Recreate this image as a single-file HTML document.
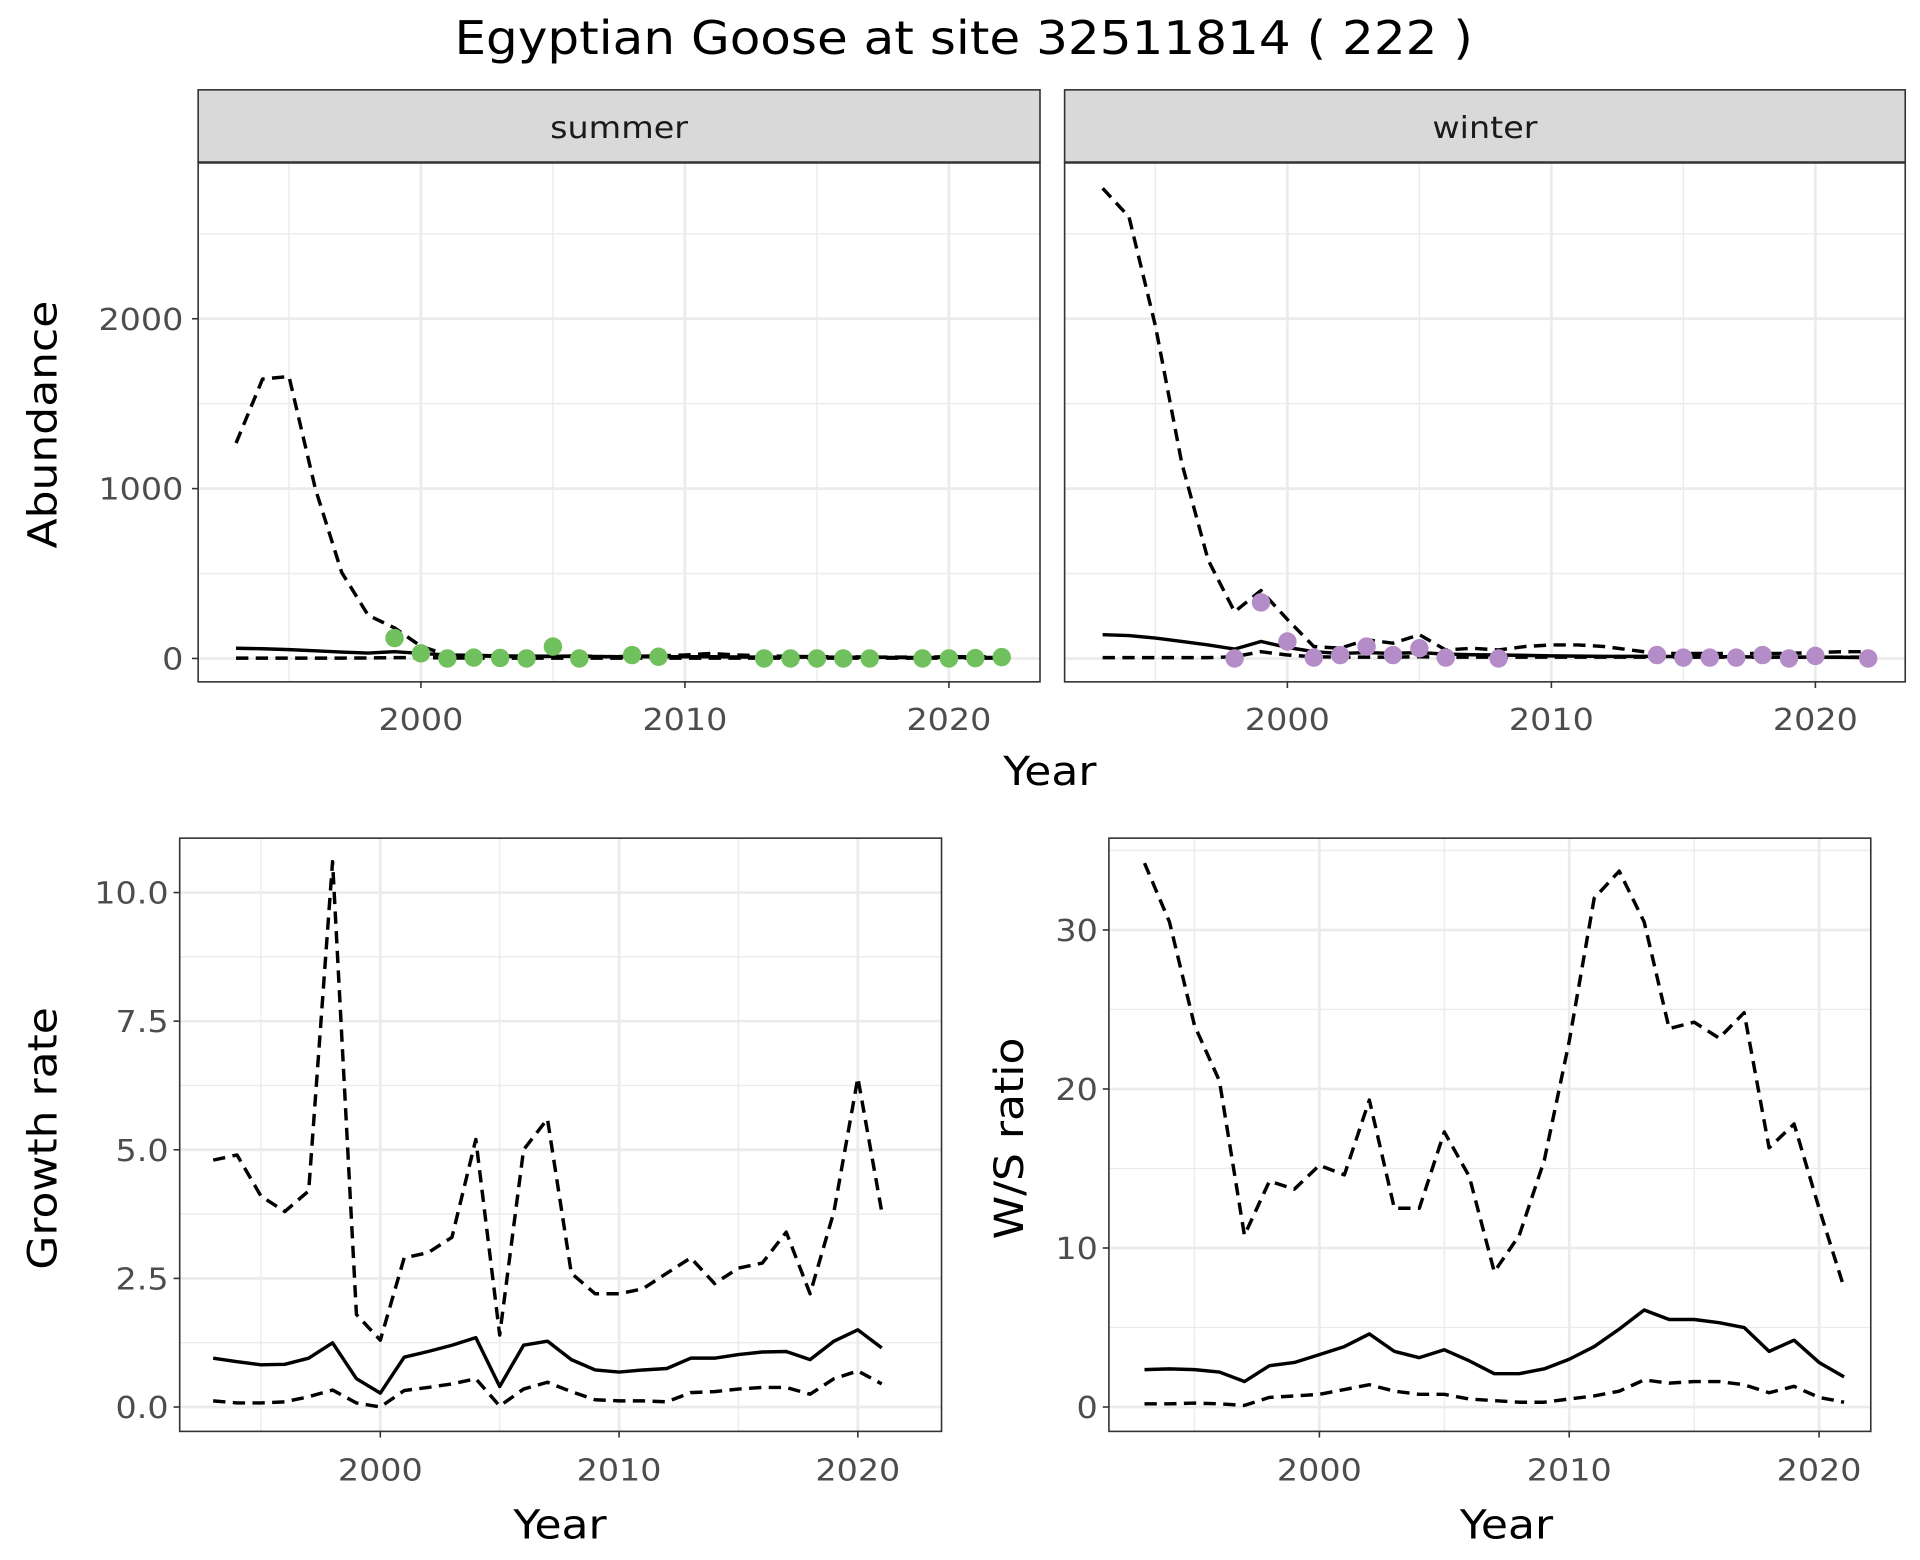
<!DOCTYPE html>
<html><head><meta charset="utf-8"><style>html,body{margin:0;padding:0;background:#fff}svg{display:block}text{font-family:"DejaVu Sans","Liberation Sans",sans-serif}</style></head>
<body>
<svg id="s" width="1920" height="1560" viewBox="0 0 1560 1267.5" xmlns="http://www.w3.org/2000/svg"></svg>
<script>
var s=document.getElementById('s'),h='';
var FS=1.13;
function L(x1,y1,x2,y2,c,w){h+='<line x1="'+x1+'" y1="'+y1+'" x2="'+x2+'" y2="'+y2+'" stroke="'+c+'" stroke-width="'+w+'"/>';}
function T(x,y,t,sz,c,a,rot){h+='<text class="t" x="'+x+'" y="'+y+'" font-size="'+(sz*FS).toFixed(1)+'" fill="'+c+'" text-anchor="'+(a||'middle')+'"'+(rot?' transform="rotate(-90 '+x+' '+y+')"':'')+'>'+t+'</text>';}
function P(pts,dash){h+='<polyline fill="none" stroke="#000" stroke-width="2.8" stroke-linejoin="round" '+(dash?'stroke-dasharray="10 6" ':'')+'points="'+pts.join(' ')+'"/>';}
function panel(o){
 h+='<rect x="'+o.x0+'" y="'+o.y0+'" width="'+(o.x1-o.x0)+'" height="'+(o.y1-o.y0)+'" fill="#fff"/>';
 o.xmin.forEach(function(v){var x=o.xf(v);L(x,o.y0,x,o.y1,'#ebebeb',1.1);});
 o.ymin.forEach(function(v){var y=o.yf(v);L(o.x0,y,o.x1,y,'#ebebeb',1.1);});
 o.xmaj.forEach(function(v){var x=o.xf(v);L(x,o.y0,x,o.y1,'#ebebeb',2.2);});
 o.ymaj.forEach(function(v){var y=o.yf(v);L(o.x0,y,o.x1,y,'#ebebeb',2.2);});
}
function border(o){h+='<rect x="'+o.x0+'" y="'+o.y0+'" width="'+(o.x1-o.x0)+'" height="'+(o.y1-o.y0)+'" fill="none" stroke="#333" stroke-width="1.3"/>';}
function series(o,years,vals,dash){var p=[];vals.forEach(function(v,i){p.push(o.xf(years[i]).toFixed(1)+','+o.yf(v).toFixed(1));});P(p,dash);}
function rng(a,b){var r=[];for(var i=a;i<=b;i++)r.push(i);return r;}

T(783,44,'Egyptian Goose at site 32511814 ( 222 )',33,'#000');

var yTop=function(v){return 535-v*0.138;};
var tops=[{x0:161,x1:845,c:342,lab:'summer'},{x0:865,x1:1548,c:1046,lab:'winter'}];
var Y93=rng(1993,2022);
var sumUp=[1268,1645,1660,1000,507,254,180,72,20,15,12,10,12,15,10,12,15,20,30,20,15,12,10,10,8,8,8,10,10,8];
var sumLo=[2,2,2,2,2,3,5,5,3,2,2,2,2,2,2,2,2,2,2,2,2,2,2,2,2,2,2,2,2,2];
var sumMid=[60,57,52,45,38,32,40,30,20,18,15,14,13,12,11,10,10,10,10,9,8,8,8,7,7,6,6,6,6,6];
var winUp=[2768,2600,1957,1150,580,275,400,230,70,60,110,90,140,50,60,50,70,80,80,70,50,30,30,30,30,30,30,35,40,40];
var winLo=[5,5,5,5,5,10,40,20,10,8,8,8,10,8,8,8,8,8,8,8,8,8,8,8,8,8,8,8,8,8];
var winMid=[140,135,120,100,80,55,100,65,40,30,35,30,35,25,22,20,18,15,14,12,12,12,11,10,10,9,8,8,7,5];
var sumPts=[[1999,120],[2000,30],[2001,0],[2002,5],[2003,3],[2004,0],[2005,70],[2006,0],[2008,20],[2009,10],[2013,0],[2014,0],[2015,0],[2016,0],[2017,0],[2019,0],[2020,0],[2021,2],[2022,8]];
var winPts=[[1998,0],[1999,330],[2000,100],[2001,5],[2002,20],[2003,70],[2004,20],[2005,60],[2006,5],[2008,0],[2014,20],[2015,5],[2016,5],[2017,5],[2018,20],[2019,0],[2020,15],[2022,0]];
tops.forEach(function(t,k){
 var o={x0:t.x0,x1:t.x1,y0:132,y1:554,xf:function(y){return t.c+(y-2000)*21.45;},yf:yTop,xmaj:[2000,2010,2020],xmin:[1995,2005,2015],ymaj:[0,1000,2000],ymin:[500,1500,2500]};
 panel(o);
 h+='<rect x="'+t.x0+'" y="73" width="'+(t.x1-t.x0)+'" height="59" fill="#d9d9d9" stroke="#333" stroke-width="1.3"/>';
 L(t.x0,132,t.x1,132,'#333',2);
 T((t.x0+t.x1)/2,112,t.lab,22,'#1a1a1a');
 if(k==0){series(o,Y93,sumUp,1);series(o,Y93,sumLo,1);series(o,Y93,sumMid,0);}
 else{series(o,Y93,winUp,1);series(o,Y93,winLo,1);series(o,Y93,winMid,0);}
 (k==0?sumPts:winPts).forEach(function(p){h+='<circle cx="'+o.xf(p[0])+'" cy="'+yTop(p[1])+'" r="7.5" fill="'+(k==0?'#71c05e':'#b48dc8')+'"/>';});
 border(o);
 [2000,2010,2020].forEach(function(v){L(o.xf(v),554,o.xf(v),559,'#333',1.3);T(o.xf(v),593,v,22,'#4d4d4d');});
});
[0,1000,2000].forEach(function(v){L(156,yTop(v),161,yTop(v),'#333',1.3);T(149,yTop(v)+9,v,22,'#4d4d4d','end');});
T(853,638,'Year',29,'#000');
T(46,345,'Abundance',29,'#000','middle',1);

var Y21=rng(1993,2021);
var gUp=[4.8,4.9,4.1,3.8,4.2,10.6,1.8,1.3,2.9,3.0,3.3,5.2,1.4,5.0,5.6,2.6,2.2,2.2,2.3,2.6,2.9,2.4,2.7,2.8,3.4,2.2,3.8,6.4,3.8];
var gMid=[0.95,0.88,0.82,0.83,0.95,1.25,0.55,0.27,0.97,1.08,1.2,1.35,0.4,1.2,1.28,0.92,0.72,0.68,0.72,0.75,0.95,0.95,1.02,1.07,1.08,0.92,1.28,1.5,1.15];
var gLo=[0.12,0.08,0.08,0.1,0.2,0.33,0.08,0.0,0.32,0.38,0.45,0.55,0.02,0.35,0.48,0.3,0.14,0.12,0.12,0.1,0.28,0.3,0.35,0.38,0.38,0.25,0.55,0.7,0.45];
var wUp=[34.2,30.5,24,20.5,10.8,14.2,13.7,15.2,14.6,19.3,12.5,12.5,17.3,14.5,8.5,10.8,15.5,23,32,33.7,30.5,23.8,24.2,23.2,24.8,16.3,17.8,12.5,7.5];
var wMid=[2.35,2.4,2.35,2.2,1.6,2.6,2.8,3.3,3.8,4.6,3.5,3.1,3.6,2.9,2.1,2.1,2.4,3.0,3.8,4.9,6.1,5.5,5.5,5.3,5.0,3.5,4.2,2.8,1.9];
var wLo=[0.2,0.2,0.25,0.2,0.1,0.6,0.7,0.8,1.1,1.4,1.0,0.8,0.8,0.5,0.4,0.3,0.3,0.5,0.7,1.0,1.7,1.5,1.6,1.6,1.4,0.9,1.3,0.6,0.3];
var g={x0:146,x1:765,y0:681,y1:1163,xf:function(y){return 309+(y-2000)*19.4;},yf:function(v){return 1143.2-v*41.8;},xmaj:[2000,2010,2020],xmin:[1995,2005,2015],ymaj:[0,2.5,5,7.5,10],ymin:[1.25,3.75,6.25,8.75]};
panel(g);series(g,Y21,gUp,1);series(g,Y21,gMid,0);series(g,Y21,gLo,1);border(g);
var w={x0:901,x1:1520,y0:681,y1:1163,xf:function(y){return 1072+(y-2000)*20.3;},yf:function(v){return 1143.2-v*12.92;},xmaj:[2000,2010,2020],xmin:[1995,2005,2015],ymaj:[0,10,20,30],ymin:[5,15,25,35]};
panel(w);series(w,Y21,wUp,1);series(w,Y21,wMid,0);series(w,Y21,wLo,1);border(w);
[[g,['0.0','2.5','5.0','7.5','10.0'],[0,2.5,5,7.5,10]],[w,['0','10','20','30'],[0,10,20,30]]].forEach(function(a){
 var o=a[0];
 a[2].forEach(function(v,i){var y=o.yf(v);L(o.x0-5,y,o.x0,y,'#333',1.3);T(o.x0-9,y+9,a[1][i],22,'#4d4d4d','end');});
 [2000,2010,2020].forEach(function(v){L(o.xf(v),o.y1,o.xf(v),o.y1+5,'#333',1.3);T(o.xf(v),1203,v,22,'#4d4d4d');});
});
T(455,1250,'Year',29,'#000');T(1224,1250,'Year',29,'#000');
T(46,925,'Growth rate',29,'#000','middle',1);
T(831,925,'W/S ratio',29,'#000','middle',1);
s.innerHTML=h;
var ts=s.querySelectorAll('text.t');
for(var i=0;i<ts.length;i++){var l=ts[i].getComputedTextLength();ts[i].setAttribute('textLength',(l*1.09).toFixed(1));ts[i].setAttribute('lengthAdjust','spacingAndGlyphs');}
</script>
</body></html>
